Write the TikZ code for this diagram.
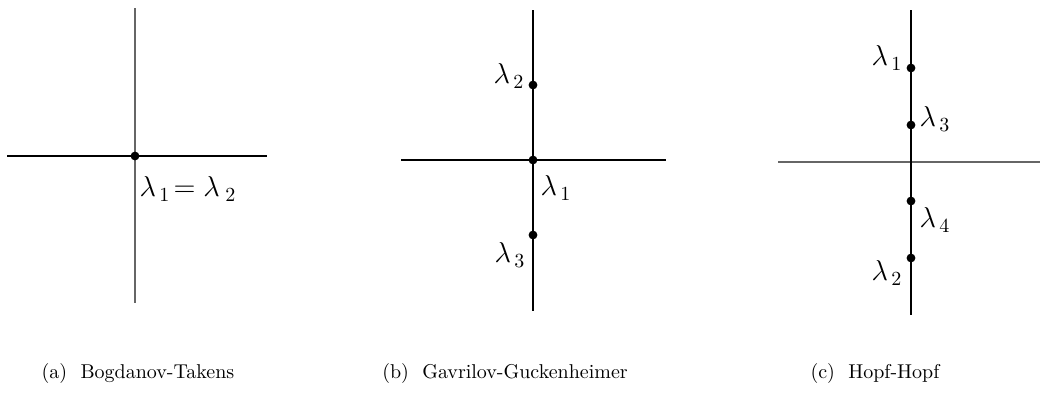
\documentclass[tikz,border=0pt]{standalone}
\usepackage{amsmath}
\usetikzlibrary{positioning}

\begin{document}
\begin{tikzpicture}[x=0.5pt, y=-0.5pt]
  \tikzset{
    ev/.style={circle,fill=black,inner sep=0pt,minimum size=4.4pt},
    axis/.style={line width=0.7pt},
    lam/.style={font=\Large,inner sep=1pt},
    subcap/.style={font=\normalsize,inner sep=1pt}
  }
  \useasboundingbox (0,0) rectangle (1040,396);
  % (a) Bogdanov-Takens
  \coordinate (aW) at (7,156);   \coordinate (aE) at (267,156);
  \coordinate (aN) at (135,8);   \coordinate (aS) at (135,303);
  \draw[axis] (aW) -- (aE);
  \draw[axis,black!60] (aN) -- (aS);
  \node[ev] (a0) at (135,156) {};
  \node[lam] (la0) at (188,189) {$\lambda_{\,1}\!=\lambda_{\;2}$};
  % (b) Gavrilov-Guckenheimer
  \coordinate (bW) at (401,160); \coordinate (bE) at (666,160);
  \coordinate (bN) at (533,10);  \coordinate (bS) at (533,311);
  \draw[axis] (bW) -- (bE);
  \draw[axis] (bN) -- (bS);
  \node[ev] (b2) at (533,85) {};
  \node[ev] (b1) at (533,160) {};
  \node[ev] (b3) at (533,235) {};
  \node[lam] (lb2) at (509,76) {$\lambda_{\,2}$};
  \node[lam] (lb1) at (556,188) {$\lambda_{\,1}$};
  \node[lam] (lb3) at (510,255) {$\lambda_{\,3}$};
  % (c) Hopf-Hopf
  \coordinate (cW) at (778,162); \coordinate (cE) at (1040,162);
  \coordinate (cN) at (911,10);  \coordinate (cS) at (911,315);
  \draw[axis,black!60] (cW) -- (cE);
  \draw[axis] (cN) -- (cS);
  \node[ev] (c1) at (911,68) {};
  \node[ev] (c3) at (911,125) {};
  \node[ev] (c4) at (911,201) {};
  \node[ev] (c2) at (911,258) {};
  \node[lam] (lc1) at (887,58) {$\lambda_{\,1}$};
  \node[lam] (lc3) at (935,119) {$\lambda_{\,3}$};
  \node[lam] (lc4) at (935,220) {$\lambda_{\,4}$};
  \node[lam] (lc2) at (887,273) {$\lambda_{\,2}$};
  % Captions
  \node[subcap] (capa) at (138,373) {(a)\ \ Bogdanov-Takens};
  \node[subcap] (capb) at (505,373) {(b)\ \ Gavrilov-Guckenheimer};
  \node[subcap] (capc) at (875,373) {(c)\ \ Hopf-Hopf};
\end{tikzpicture}
\end{document}
